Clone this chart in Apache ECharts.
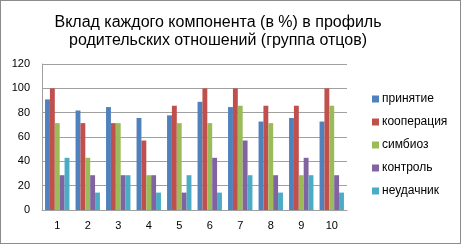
<!DOCTYPE html>
<html><head><meta charset="utf-8">
<script src="https://cdn.jsdelivr.net/npm/echarts@6/dist/echarts.min.js"></script>
<style>html,body{margin:0;padding:0;background:#fff}#c{width:459px;height:242px;border:1px solid #8c8c8c;}</style>
</head><body><div id="c"></div>
<script>
const categories = ['1','2','3','4','5','6','7','8','9','10'];
const seriesNames = ['принятие','кооперация','симбиоз','контроль','неудачник'];
const prinyatie = [90.9, 81.8, 84.6, 75.6, 77.8, 88.9, 84.6, 72.7, 75.6, 72.7];
const kooperaciya = [100, 71.4, 71.4, 57.1, 85.7, 100, 100, 85.7, 85.7, 100];
const simbioz = [71.4, 42.9, 71.4, 28.6, 71.4, 71.4, 85.7, 71.4, 28.6, 85.7];
const kontrol = [28.6, 28.6, 28.6, 28.6, 14.3, 42.9, 57.1, 28.6, 42.9, 28.6];
const neudachnik = [42.9, 14.3, 28.6, 14.3, 28.6, 14.3, 28.6, 14.3, 28.6, 14.3];
const yTicks = [0, 20, 40, 60, 80, 100, 120];
const colors = ['#4F81BD','#C0504D','#9BBB59','#8064A2','#4BACC6'];
const values = [prinyatie, kooperaciya, simbioz, kontrol, neudachnik];

const chart = echarts.init(document.getElementById('c'), null, {renderer:'canvas'});
chart.setOption({
  animation:false,
  title:{text:'Вклад каждого компонента (в %) в профиль\nродительских отношений (группа отцов)',
    left:212, top:8, textAlign:'center',
    textStyle:{fontFamily:'Liberation Sans, Arial, sans-serif', fontSize:16, fontWeight:'normal', color:'#000', lineHeight:18}},
  legend:{orient:'vertical', left:366, top:87, itemWidth:7, itemHeight:7, itemGap:11,
    icon:'rect', textStyle:{fontFamily:'Liberation Sans, Arial, sans-serif', fontSize:12, color:'#000', padding:[0,0,0,-2]},
    data:seriesNames},
  grid:{left:41, right:113, top:63, bottom:33, containLabel:false},
  xAxis:{type:'category', data:categories,
    axisLine:{lineStyle:{color:'#a0a0a0'}}, axisTick:{show:false},
    axisLabel:{color:'#000', fontSize:11, fontFamily:'Liberation Sans, Arial, sans-serif', margin:10}},
  yAxis:{type:'value', min:0, max:120, interval:20,
    axisLine:{show:true, lineStyle:{color:'#a0a0a0'}}, axisTick:{show:false},
    splitLine:{lineStyle:{color:'#a0a0a0', width:1}},
    axisLabel:{color:'#000', fontSize:11, fontFamily:'Liberation Sans, Arial, sans-serif', margin:12,
      formatter:v=>yTicks.includes(v)?String(v):''}},
  series: seriesNames.map((n,i)=>({name:n, type:'bar', data:values[i], barGap:'0%', barCategoryGap:'20%',
    itemStyle:{color:colors[i]}}))
});
</script></body></html>
